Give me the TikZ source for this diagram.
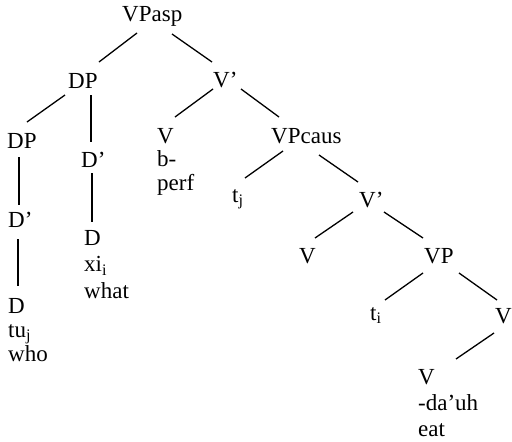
\documentclass[tikz,border=0pt]{standalone}
\usepackage{fontspec}
\setmainfont{Liberation Serif}
\begin{document}
\begin{tikzpicture}[x=1pt,y=-1pt,
  lab/.style={inner sep=0pt, anchor=base west, font=\fontsize{23}{25}\selectfont},
  mlab/.style={inner sep=0pt, anchor=north west, align=left, font=\fontsize{23}{#1}\selectfont},
  mlab/.default=25,
  br/.style={line width=1.3pt}]
\useasboundingbox (0,0) rectangle (512,442);
\node[lab] (vpasp) at (122,21) {VPasp};
\node[lab] (dpA) at (68,88) {DP};
\node[lab] (vbarA) at (213,87) {V’};
\node[lab] (dpB) at (7,148) {DP};
\node[lab] (dbarB) at (81,167) {D’};
\node[mlab=23.5] (vperf) at (157,128) {V\\b-\\perf};
\node[lab] (vpcaus) at (271,143) {VPcaus};
\node[lab] (dbarC) at (8,227) {D’};
\node[mlab=26.5] (dxi) at (84,230) {D\\xi\textsubscript{i}\\what};
\node[lab] (tj) at (232,202) {t\textsubscript{j}};
\node[lab] (vbarB) at (359,207) {V’};
\node[mlab=24] (dtu) at (8,298) {D\\tu\textsubscript{j}\\who};
\node[lab] (vD) at (299,263) {V};
\node[lab] (vp) at (424,263) {VP};
\node[lab] (ti) at (370,320) {t\textsubscript{i}};
\node[lab] (vE) at (495,323) {V};
\node[mlab=26] (vdauh) at (418,369) {V\\-da’uh\\eat};
\draw[br] ([shift={(15,12)}]vpasp.base west) -- ([shift={(31,-26)}]dpA.base west);
\draw[br] ([shift={(50,13)}]vpasp.base west) -- ([shift={(-1,-25)}]vbarA.base west);
\draw[br] ([shift={(-3,7)}]dpA.base west) -- ([shift={(20,-26)}]dpB.base west);
\draw[br] ([shift={(23,7)}]dpA.base west) -- ([shift={(10,-25)}]dbarB.base west);
\draw[br] ([shift={(0,2)}]vbarA.base west) -- ([shift={(18,-11)}]vperf.north west);
\draw[br] ([shift={(28,2)}]vbarA.base west) -- ([shift={(8,-26)}]vpcaus.base west);
\draw[br] ([shift={(12,9)}]dpB.base west) -- ([shift={(11,-22)}]dbarC.base west);
\draw[br] ([shift={(11,6)}]dbarB.base west) -- ([shift={(8,-8)}]dxi.north west);
\draw[br] ([shift={(12,8)}]vpcaus.base west) -- ([shift={(13,-24)}]tj.base west);
\draw[br] ([shift={(48,12)}]vpcaus.base west) -- ([shift={(-1,-25)}]vbarB.base west);
\draw[br] ([shift={(10,12)}]dbarC.base west) -- ([shift={(10,-12)}]dtu.north west);
\draw[br] ([shift={(-6,5)}]vbarB.base west) -- ([shift={(16,-25)}]vD.base west);
\draw[br] ([shift={(25,5)}]vbarB.base west) -- ([shift={(-1,-25)}]vp.base west);
\draw[br] ([shift={(-1,10)}]vp.base west) -- ([shift={(15,-20)}]ti.base west);
\draw[br] ([shift={(35,10)}]vp.base west) -- ([shift={(2,-23)}]vE.base west);
\draw[br] ([shift={(-1,10)}]vE.base west) -- ([shift={(38,-10)}]vdauh.north west);
\end{tikzpicture}
\end{document}
